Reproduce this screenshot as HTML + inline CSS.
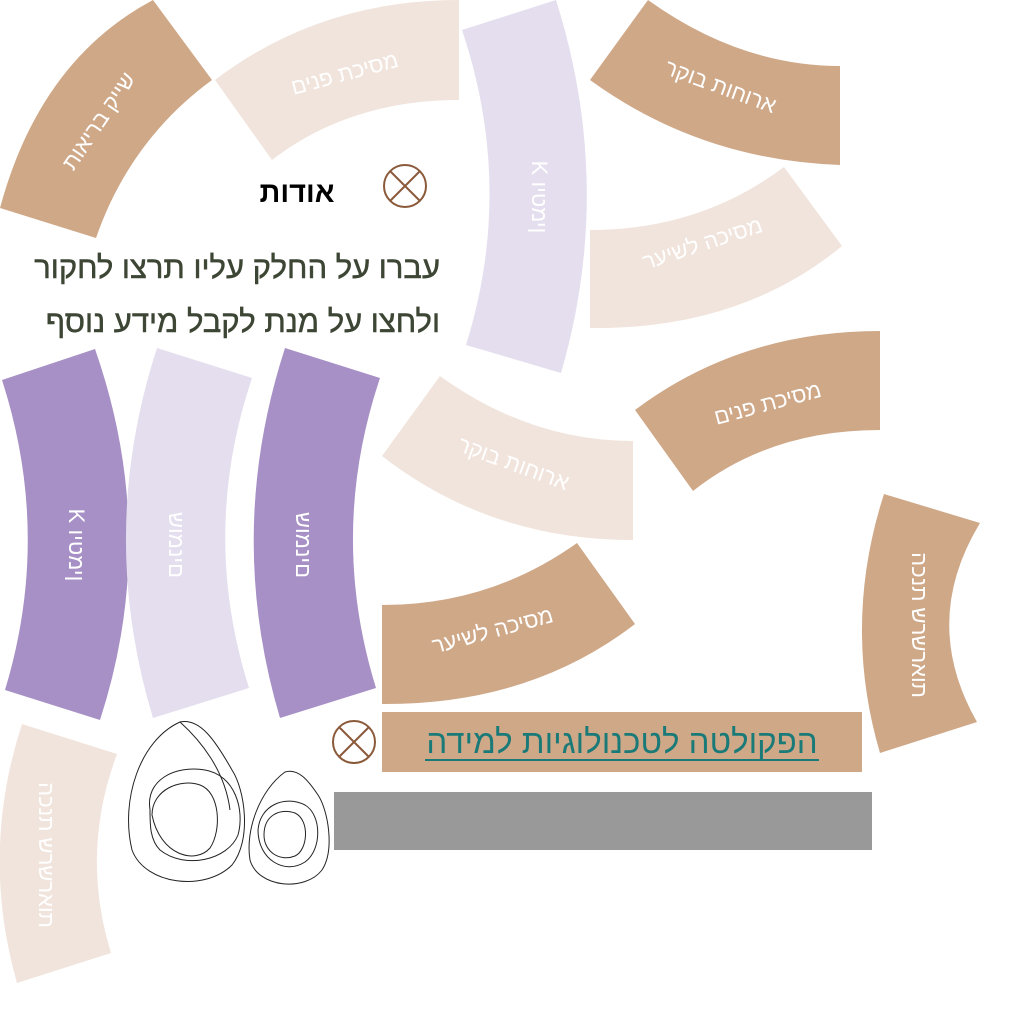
<!DOCTYPE html>
<html><head><meta charset="utf-8"><style>
html,body{margin:0;padding:0;background:#fff;}
svg{display:block;}
text{font-family:"Liberation Sans","Noto Sans CJK JP",sans-serif;}
.v{unicode-bidi:bidi-override;direction:ltr;}
</style></head><body>
<svg width="1024" height="1024" viewBox="0 0 1024 1024" xmlns="http://www.w3.org/2000/svg">
<path d="M153,0 L212,80 Q130,140 96,238 L0,208 Q40,60 153,0Z" fill="#cfa888"/>
<path d="M215,80 Q320,0 459,0 L459,100 Q350,100 272,160Z" fill="#f1e4dc"/>
<path d="M462,30 L556,0 Q615,187 561,373 L466,345 Q515,188 462,30Z" fill="#e4deee"/>
<path d="M648,0 Q740,66 840,66 L840,165 Q700,160 590,80Z" fill="#cfa888"/>
<path d="M590,230 Q700,230 784,167 L842,246 Q740,330 590,328Z" fill="#f1e4dc"/>
<path d="M635,410 Q740,331 880,331 L880,430 Q770,430 693,491Z" fill="#cfa888"/>
<path d="M440,376 Q530,441 633,441 L633,540 Q490,540 382,456Z" fill="#f1e4dc"/>
<path d="M382,605 Q490,605 577,543 L635,624 Q530,705 382,704Z" fill="#cfa888"/>
<path d="M884,494 L980,523 Q920,622 977,722 L880,753 Q842,624 884,494Z" fill="#cfa888"/>
<path d="M22,724 L117,754 Q80,853 111,953 L17,983 Q-20,853 22,724Z" fill="#f1e4dc"/>
<path d="M2,380 L95,349 Q160,535 100,720 L5,690 Q52,535 2,380Z" fill="#a790c5"/>
<path d="M157,348 L252,378 Q200,533 249,688 L153,718 Q97,533 157,348Z" fill="#e4deee"/>
<path d="M285,348 L380,378 Q328,533 376,688 L280,718 Q225,533 285,348Z" fill="#a790c5"/>
<g font-size="22" text-anchor="middle" dominant-baseline="middle">
<text transform="translate(100,122) rotate(-56)" fill="#fff">שייק בריאות</text>
<text transform="translate(345,75) rotate(-15)" fill="#fff">מסיכת פנים</text>
<text class="v" transform="translate(538,197) rotate(90)" fill="#fff">K ויטמין</text>
<text transform="translate(720,88) rotate(20)" fill="#fff">ארוחות בוקר</text>
<text transform="translate(703,245) rotate(-18)" fill="#fff">מסיכה לשיער</text>
<text transform="translate(768,405) rotate(-15)" fill="#fff">מסיכת פנים</text>
<text transform="translate(513,465) rotate(20)" fill="#fff">ארוחות בוקר</text>
<text transform="translate(493,632) rotate(-15)" fill="#fff">מסיכה לשיער</text>
<text class="v" transform="translate(918,625) rotate(90)" fill="#fff">הכנת שרשראות</text>
<text class="v" transform="translate(45,855) rotate(90)" fill="#fff">הכנת שרשראות</text>
<text class="v" transform="translate(75,545) rotate(90)" fill="#fff">K ויטמין</text>
<text class="v" transform="translate(175,545) rotate(90)" fill="#fff">שומנים</text>
<text class="v" transform="translate(302,545) rotate(90)" fill="#fff">שומנים</text>
</g>
<text x="297" y="202" font-size="29" font-weight="bold" text-anchor="middle" fill="#000">אודות</text>
<g stroke="#8a5a3a" stroke-width="2" fill="none">
<circle cx="405" cy="186" r="21"/><path d="M390,171 L420,201 M420,171 L390,201"/>
<circle cx="354" cy="742" r="21"/><path d="M339,727 L369,757 M369,727 L339,757"/>
</g>
<g font-size="31" fill="#3d4634" stroke="#3d4634" stroke-width="0.5">
<text x="440" y="278" text-anchor="start" direction="rtl">עברו על החלק עליו תרצו לחקור</text>
<text x="440" y="332" text-anchor="start" direction="rtl">ולחצו על מנת לקבל מידע נוסף</text>
</g>
<rect x="382" y="712" width="480" height="60" fill="#cfa888"/>
<text x="622" y="753" font-size="33" text-anchor="middle" fill="#1a7a78">הפקולטה לטכנולוגיות למידה</text>
<line x1="425" y1="760" x2="819" y2="760" stroke="#1a7a78" stroke-width="2"/>
<rect x="334" y="792" width="538" height="58" fill="#999"/>
<g fill="none" stroke="#222" stroke-width="1">
<path d="M180,722 C140,740 120,800 132,850 C145,885 205,892 232,865 C252,840 245,790 232,770 C215,740 200,718 180,722Z"/>
<path d="M150,810 C145,780 175,765 205,770 C235,775 245,810 238,835 C228,860 185,870 160,850 C150,840 150,825 150,810Z"/>
<path d="M152,815 C152,790 180,778 200,785 C220,792 222,830 210,848 C195,865 160,855 152,815Z"/>
<path d="M180,722 C200,740 225,770 230,810"/>
<path d="M285,772 C260,790 245,830 250,860 C258,888 305,892 322,870 C335,850 328,810 318,795 C308,780 298,768 285,772Z"/>
<path d="M258,830 C260,805 285,795 305,805 C322,815 322,850 305,862 C285,875 258,860 258,830Z"/>
<path d="M264,835 C264,815 280,808 295,813 C310,820 308,850 295,856 C280,862 264,852 264,835Z"/>
</g>
</svg>
</body></html>
